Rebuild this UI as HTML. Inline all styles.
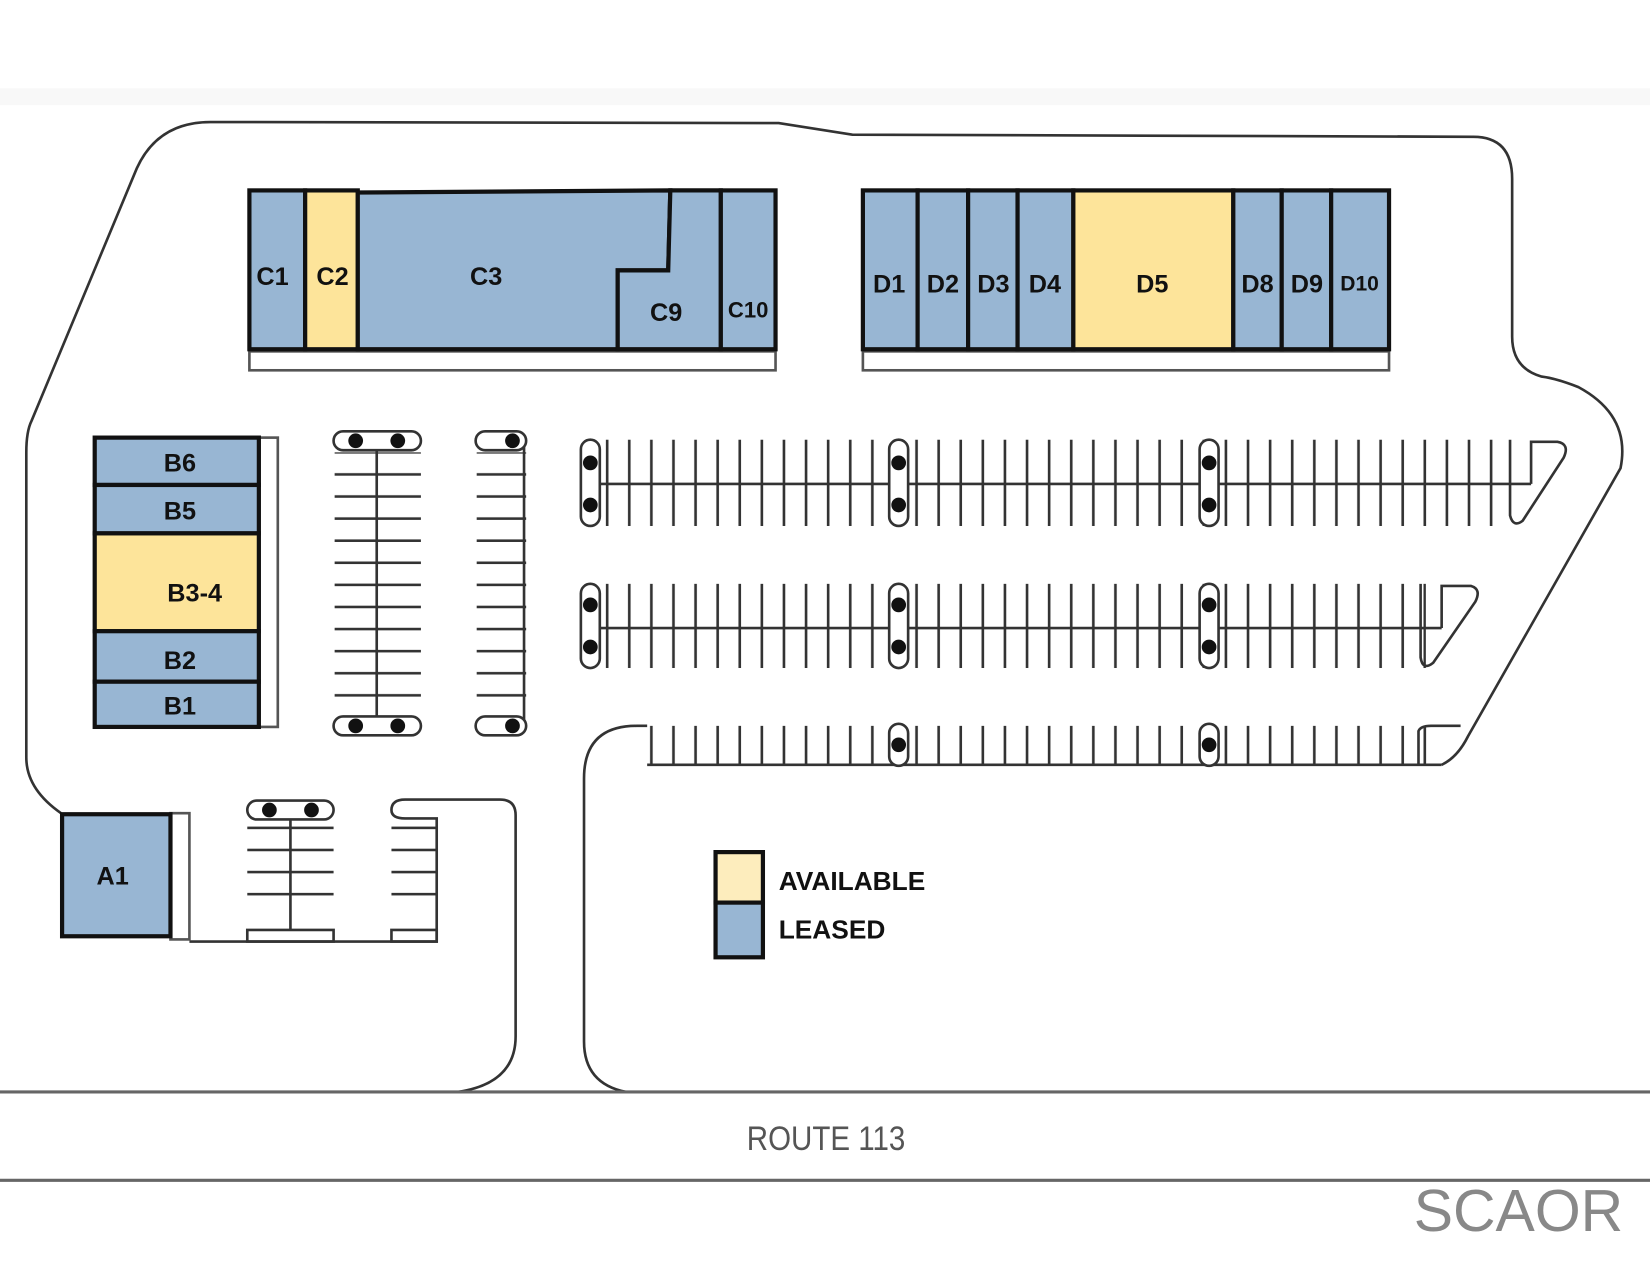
<!DOCTYPE html>
<html><head><meta charset="utf-8"><style>
html,body{margin:0;padding:0;background:#fff;}
svg{display:block}
text{font-family:"Liberation Sans",sans-serif;font-weight:bold;fill:#111;}
</style></head><body>
<svg width="1650" height="1275" viewBox="0 0 1568 1212" preserveAspectRatio="none" xmlns="http://www.w3.org/2000/svg">
<defs>
<pattern id="vs" x="0" y="0" width="21" height="200" patternUnits="userSpaceOnUse">
<line x1="10" y1="0" x2="10" y2="200" stroke="#333" stroke-width="2.5"/></pattern>
<pattern id="hs" x="0" y="0" width="200" height="21" patternUnits="userSpaceOnUse">
<line x1="0" y1="10" x2="200" y2="10" stroke="#333" stroke-width="2.5"/></pattern>
</defs>
<rect width="1568" height="1212" fill="#fff"/>
<rect x="0" y="84" width="1568" height="16" fill="#f8f8f8"/>
<g fill="none" stroke="#333" stroke-width="2.5">
<path d="M595 1038 Q555 1030 555 990 L555 740 Q555 690 605 690 L615 690"/>
<path d="M1370 727 L615 727"/>
<path d="M1370 727 Q1385 720 1395 700 L1540 445 Q1550 395 1500 368 Q1480 360 1465 358 Q1437 350 1437 320 L1437 170 Q1437 130 1400 130 L810 128 L740 117 L200 116 Q150 116 130 160 L30 400 Q25 410 25 430 L25 720 Q25 750 58 773"/>
<path d="M435 1038 Q490 1030 490 985 L490 775 Q490 760 475 760 L385 760 Q372 760 372 770 Q372 778 385 778 L415 778 L415 895 L180 895"/>
<line x1="0" y1="1038" x2="1568" y2="1038" stroke="#666" stroke-width="3"/>
<line x1="0" y1="1122" x2="1568" y2="1122" stroke="#666" stroke-width="3"/>
<rect x="575" y="418" width="860" height="82" fill="url(#vs)" stroke="none"/>
<line x1="570" y1="460" x2="1455" y2="460"/>
<path d="M1455 460 L1455 420 L1480 420 Q1492 422 1486 435 L1447 495 Q1438 502 1435 490 L1435 418"/>
<rect x="575" y="555" width="780" height="80" fill="url(#vs)" stroke="none"/>
<line x1="570" y1="597" x2="1370" y2="597"/>
<path d="M1370 597 L1370 557 L1398 557 Q1408 560 1402 572 L1362 630 Q1352 638 1350 625 L1350 555"/>
<rect x="617" y="690" width="740" height="37" fill="url(#vs)" stroke="none"/>
<path d="M1348 727 L1348 695 Q1350 690 1360 690 L1388 690"/>
<g fill="#fff">
<rect x="552" y="418" width="18" height="82" rx="9"/>
<rect x="845" y="418" width="18" height="82" rx="9"/>
<rect x="1140" y="418" width="18" height="82" rx="9"/>
<rect x="552" y="555" width="18" height="80" rx="9"/>
<rect x="845" y="555" width="18" height="80" rx="9"/>
<rect x="1140" y="555" width="18" height="80" rx="9"/>
<rect x="845" y="688" width="18" height="40" rx="9"/>
<rect x="1140" y="688" width="18" height="40" rx="9"/>
</g>
<rect x="318" y="430" width="82" height="250" fill="url(#hs)" stroke="none"/>
<line x1="358" y1="420" x2="358" y2="690"/>
<rect x="317" y="410" width="83" height="18" rx="9" fill="#fff"/>
<rect x="317" y="681" width="83" height="18" rx="9" fill="#fff"/>
<rect x="453" y="430" width="47" height="250" fill="url(#hs)" stroke="none"/>
<line x1="498" y1="420" x2="498" y2="690"/>
<rect x="452" y="410" width="48" height="18" rx="9" fill="#fff"/>
<rect x="452" y="681" width="48" height="18" rx="9" fill="#fff"/>
<rect x="235" y="782" width="82" height="84" fill="url(#hs)" stroke="none"/>
<line x1="276" y1="775" x2="276" y2="884"/>
<rect x="235" y="761" width="82" height="18" rx="9" fill="#fff"/>
<rect x="235" y="884" width="82" height="11"/>
<rect x="372" y="782" width="43" height="84" fill="url(#hs)" stroke="none"/>
<rect x="372" y="884" width="43" height="11"/>
</g>
<g fill="#111">
<circle cx="561" cy="440" r="7"/><circle cx="561" cy="480" r="7"/>
<circle cx="854" cy="440" r="7"/><circle cx="854" cy="480" r="7"/>
<circle cx="1149" cy="440" r="7"/><circle cx="1149" cy="480" r="7"/>
<circle cx="561" cy="575" r="7"/><circle cx="561" cy="615" r="7"/>
<circle cx="854" cy="575" r="7"/><circle cx="854" cy="615" r="7"/>
<circle cx="1149" cy="575" r="7"/><circle cx="1149" cy="615" r="7"/>
<circle cx="854" cy="708" r="7"/><circle cx="1149" cy="708" r="7"/>
<circle cx="338" cy="419" r="7"/><circle cx="378" cy="419" r="7"/>
<circle cx="338" cy="690" r="7"/><circle cx="378" cy="690" r="7"/>
<circle cx="487" cy="419" r="7"/><circle cx="487" cy="690" r="7"/>
<circle cx="256" cy="770" r="7"/><circle cx="296" cy="770" r="7"/>
</g>
<g fill="#fff" stroke="#555" stroke-width="2.5">
<rect x="237" y="334" width="500" height="18"/>
<rect x="820" y="334" width="500" height="18"/>
<rect x="246" y="416" width="18" height="275"/>
<rect x="162" y="773" width="18" height="120"/>
</g>
<g stroke="#111" stroke-width="4">
<rect x="237" y="181" width="53" height="151" fill="#98b6d3"/>
<rect x="290" y="181" width="50" height="151" fill="#fde49a"/>
<path d="M340 183 L637 181 L635 257 L587 257 L587 332 L340 332 Z" fill="#98b6d3"/>
<path d="M637 181 L685 181 L685 332 L587 332 L587 257 L635 257 Z" fill="#98b6d3"/>
<rect x="685" y="181" width="52" height="151" fill="#98b6d3"/>
<rect x="820" y="181" width="52" height="151" fill="#98b6d3"/>
<rect x="872" y="181" width="48" height="151" fill="#98b6d3"/>
<rect x="920" y="181" width="47" height="151" fill="#98b6d3"/>
<rect x="967" y="181" width="53" height="151" fill="#98b6d3"/>
<rect x="1020" y="181" width="152" height="151" fill="#fde49a"/>
<rect x="1172" y="181" width="46" height="151" fill="#98b6d3"/>
<rect x="1218" y="181" width="47" height="151" fill="#98b6d3"/>
<rect x="1265" y="181" width="55" height="151" fill="#98b6d3"/>
<rect x="90" y="416" width="156" height="45" fill="#98b6d3"/>
<rect x="90" y="461" width="156" height="46" fill="#98b6d3"/>
<rect x="90" y="507" width="156" height="93" fill="#fde49a"/>
<rect x="90" y="600" width="156" height="48" fill="#98b6d3"/>
<rect x="90" y="648" width="156" height="43" fill="#98b6d3"/>
<rect x="59" y="774" width="103" height="116" fill="#98b6d3"/>
<rect x="680" y="810" width="45" height="48" fill="#fdedbd"/>
<rect x="680" y="858" width="45" height="52" fill="#98b6d3"/>
</g>
<g font-size="24" text-anchor="middle">
<text x="259" y="271">C1</text><text x="316" y="271">C2</text>
<text x="462" y="271">C3</text><text x="633" y="305">C9</text>
<text x="711" y="302" font-size="21">C10</text>
<text x="845" y="278">D1</text><text x="896" y="278">D2</text>
<text x="944" y="278">D3</text><text x="993" y="278">D4</text>
<text x="1095" y="278">D5</text><text x="1195" y="278">D8</text>
<text x="1242" y="278">D9</text><text x="1292" y="276" font-size="20">D10</text>
<text x="171" y="448">B6</text><text x="171" y="494">B5</text>
<text x="185" y="572">B3-4</text><text x="171" y="636">B2</text>
<text x="171" y="679">B1</text><text x="107" y="841">A1</text>
</g>
<text x="740" y="846" font-size="25">AVAILABLE</text>
<text x="740" y="892" font-size="25">LEASED</text>
<text x="785" y="1093" font-size="33" text-anchor="middle" style="font-weight:normal;fill:#555" transform="translate(785 0) scale(0.85 1) translate(-785 0)">ROUTE 113</text>
<text x="1443" y="1170" font-size="56" text-anchor="middle" style="font-weight:normal;fill:#888">SCAOR</text>
</svg>
</body></html>
